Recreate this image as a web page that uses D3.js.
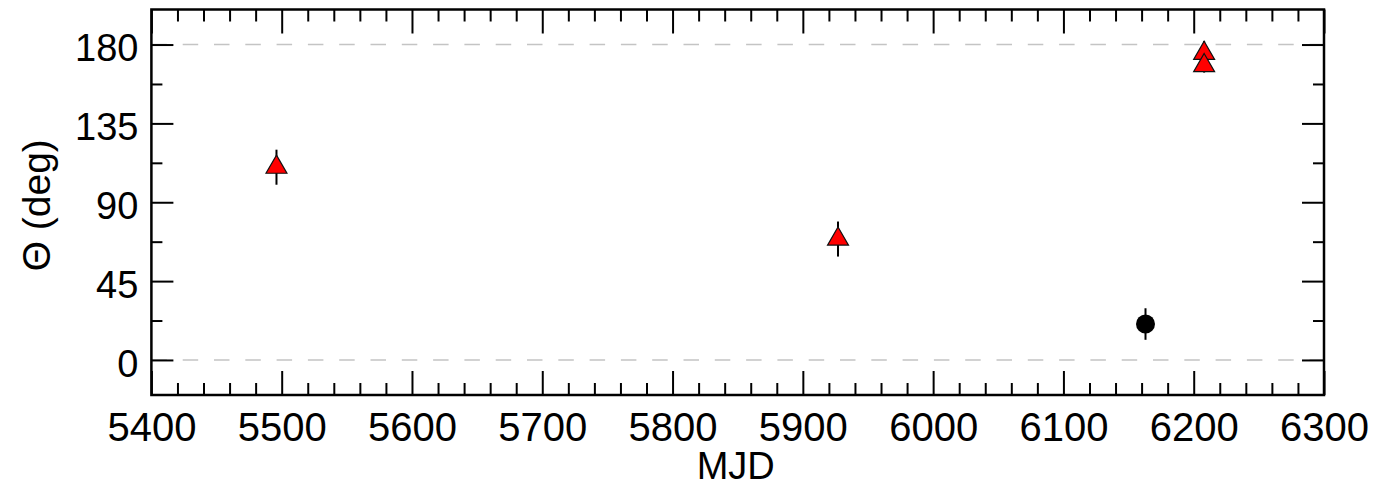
<!DOCTYPE html>
<html>
<head>
<meta charset="utf-8">
<script src="https://cdn.jsdelivr.net/npm/d3@7"></script>
<style>
  html, body { margin: 0; padding: 0; background: #fff; }
  svg { display: block; }
  text { font-family: "Liberation Sans", Arial, Helvetica, sans-serif; fill: #000; }
</style>
</head>
<body>
<svg id="chart" width="1387" height="487"></svg>
<script>
// ---- data ----
const xMajorTicks = [5400, 5500, 5600, 5700, 5800, 5900, 6000, 6100, 6200, 6300];
const yMajorTicks = [0, 45, 90, 135, 180];
const refLines = [0, 180];

const triMJD   = [5496, 5927, 6208, 6208];
const triTheta = [110, 69, 175, 168];
const triErr   = [10, 10, 7, 4];

const dotMJD   = [6163];
const dotTheta = [20.5];
const dotErr   = [9];

const xDomain = [5400, 6300];
const yDomain = [-20, 200];

// ---- layout ----
const svg = d3.select("#chart");
const L = 151.4, R = 1324, T = 9.5, B = 395;
const x = d3.scaleLinear().domain(xDomain).range([L, R]);
const y = d3.scaleLinear().domain(yDomain).range([B, T]);

const xMinor = d3.range(xDomain[0], xDomain[1] + 0.1, 20).filter(v => v % 100 !== 0);
const yMinor = d3.range(0, yDomain[1], 22.5).filter(v => v % 45 !== 0);

function styleAxis(g) {
  g.select(".domain").remove();
  g.selectAll(".tick line").attr("stroke", "#000").attr("stroke-width", 2);
}

// reference dashed lines
svg.append("g").selectAll("line").data(refLines).join("line")
  .attr("x1", L).attr("x2", R)
  .attr("y1", d => y(d)).attr("y2", d => y(d))
  .attr("stroke", "#c4c4c4").attr("stroke-width", 1.6)
  .attr("stroke-dasharray", "15.5 15.8");

// bottom axis
const gB = svg.append("g").attr("transform", `translate(0,${B})`)
  .call(d3.axisBottom(x).tickValues(xMajorTicks).tickFormat(d3.format("d")).tickSize(-24).tickPadding(18));
styleAxis(gB);
gB.selectAll("text").attr("font-size", 40).style("font-family", "'Liberation Sans', Arial, sans-serif");
const gBm = svg.append("g").attr("transform", `translate(0,${B})`)
  .call(d3.axisBottom(x).tickValues(xMinor).tickFormat("").tickSize(-12));
styleAxis(gBm);

// top axis
const gT = svg.append("g").attr("transform", `translate(0,${T})`)
  .call(d3.axisTop(x).tickValues(xMajorTicks).tickFormat("").tickSize(-24));
styleAxis(gT);
const gTm = svg.append("g").attr("transform", `translate(0,${T})`)
  .call(d3.axisTop(x).tickValues(xMinor).tickFormat("").tickSize(-12));
styleAxis(gTm);

// left axis
const gL = svg.append("g").attr("transform", `translate(${L},0)`)
  .call(d3.axisLeft(y).tickValues(yMajorTicks).tickFormat(d3.format("d")).tickSize(-22).tickPadding(13));
styleAxis(gL);
gL.selectAll("text").attr("font-size", 38).attr("dy", "0.43em").style("font-family", "'Liberation Sans', Arial, sans-serif");
const gLm = svg.append("g").attr("transform", `translate(${L},0)`)
  .call(d3.axisLeft(y).tickValues(yMinor).tickFormat("").tickSize(-11));
styleAxis(gLm);

// right axis
const gR = svg.append("g").attr("transform", `translate(${R},0)`)
  .call(d3.axisRight(y).tickValues(yMajorTicks).tickFormat("").tickSize(-22));
styleAxis(gR);
const gRm = svg.append("g").attr("transform", `translate(${R},0)`)
  .call(d3.axisRight(y).tickValues(yMinor).tickFormat("").tickSize(-11));
styleAxis(gRm);

// frame
svg.append("rect").attr("x", L).attr("y", T).attr("width", R - L).attr("height", B - T)
  .attr("fill", "none").attr("stroke", "#000").attr("stroke-width", 2.5);

// axis titles
svg.append("text").attr("x", (L + R) / 2 - 2).attr("y", 479)
  .attr("text-anchor", "middle").attr("font-size", 38).text("MJD");
svg.append("text").attr("transform", `translate(50,${(T + B) / 2 + 3}) rotate(-90)`)
  .attr("text-anchor", "middle").attr("font-size", 39).text("Θ (deg)");

// error bars
const tri = triMJD.map((m, i) => ({ m, t: triTheta[i], e: triErr[i] }));
const dots = dotMJD.map((m, i) => ({ m, t: dotTheta[i], e: dotErr[i] }));
svg.append("g").selectAll("line").data(tri.concat(dots)).join("line")
  .attr("x1", d => x(d.m)).attr("x2", d => x(d.m))
  .attr("y1", d => y(d.t - d.e)).attr("y2", d => y(d.t + d.e))
  .attr("stroke", "#000").attr("stroke-width", 2);

// markers
svg.append("g").selectAll("path").data(tri).join("path")
  .attr("transform", d => `translate(${x(d.m)},${y(d.t)})`)
  .attr("d", d3.symbol(d3.symbolTriangle, 190)())
  .attr("fill", "#ff0000").attr("stroke", "#111").attr("stroke-width", 1.2);
svg.append("g").selectAll("circle").data(dots).join("circle")
  .attr("cx", d => x(d.m)).attr("cy", d => y(d.t)).attr("r", 9.5)
  .attr("fill", "#000");
</script>
</body>
</html>
